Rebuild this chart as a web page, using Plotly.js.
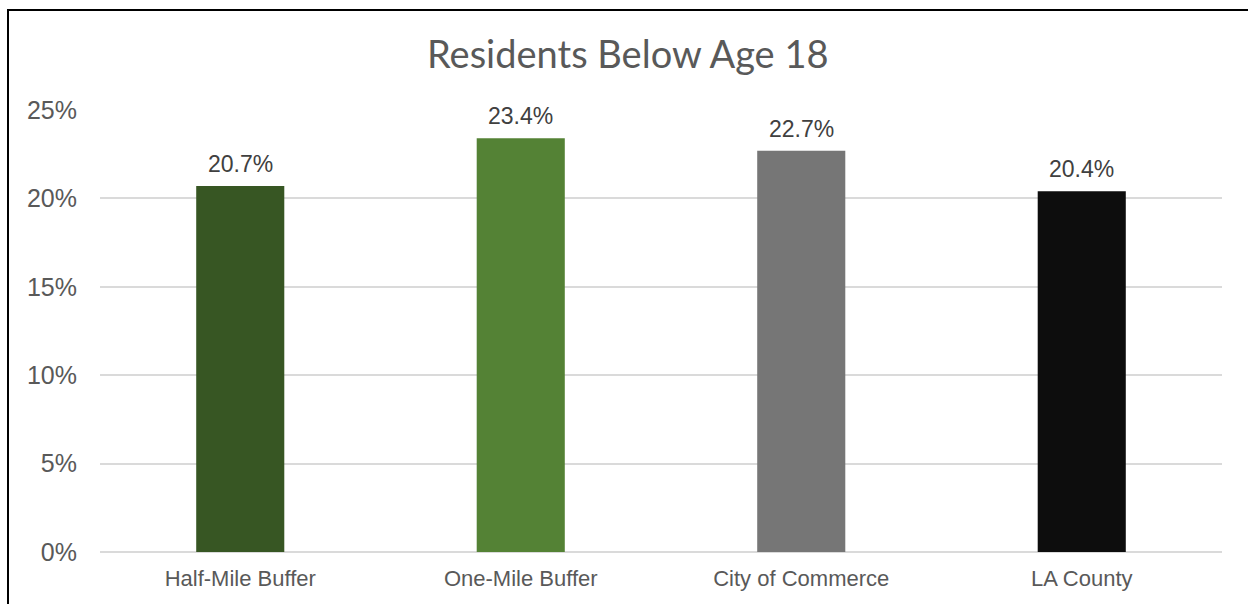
<!DOCTYPE html>
<html>
<head>
<meta charset="utf-8">
<script src="https://cdn.plot.ly/plotly-3.0.1.min.js"></script>
<style>
  html, body { margin: 0; padding: 0; background: #ffffff; overflow: hidden; }
  #wrap { position: relative; width: 1248px; height: 604px; overflow: hidden; }
  #chart { position: absolute; left: 0; top: 0; width: 1248px; height: 604px; }
  #frame { position: absolute; left: 7px; top: 9px; width: 1300px; height: 700px; border-top: 2px solid #000; border-left: 2px solid #000; box-sizing: border-box; pointer-events: none; }
</style>
</head>
<body>
<div id="wrap">
  <div id="chart"></div>
  <div id="frame"></div>
</div>
<script>
const categories = ["Half-Mile Buffer", "One-Mile Buffer", "City of Commerce", "LA County"];
const values = [20.7, 23.4, 22.7, 20.4];
const labels = ["20.7%", "23.4%", "22.7%", "20.4%"];
const colors = ["#375623", "#548235", "#767676", "#0d0d0d"];
const yTicks = [0, 5, 10, 15, 20, 25];
const yTickText = ["0%", "5%", "10%", "15%", "20%", "25%"];

const trace = {
  type: "bar",
  x: categories,
  y: values,
  marker: { color: colors },
  hoverinfo: "skip"
};

const annotations = categories.map((c, i) => ({
  x: c, y: values[i], xref: "x", yref: "y",
  text: labels[i], showarrow: false,
  yanchor: "bottom", yshift: 7,
  font: { family: "Liberation Sans, Arial, sans-serif", size: 23, color: "#404040" }
}));

const layout = {
  width: 1248, height: 604,
  paper_bgcolor: "#ffffff", plot_bgcolor: "#ffffff",
  margin: { l: 100, r: 26, t: 110, b: 52 },
  title: {
    text: "Residents Below Age 18",
    font: { family: "Lato, Noto Sans, sans-serif", size: 38, color: "#595959" },
    x: 0.503, xanchor: "center",
    y: 1 - 55 / 604, yanchor: "middle", yref: "container"
  },
  bargap: 0.686,
  showlegend: false,
  xaxis: {
    type: "category",
    showgrid: false, showline: false, zeroline: false,
    ticks: "", ticklabelstandoff: 11,
    tickfont: { family: "Liberation Sans, Arial, sans-serif", size: 22, color: "#595959" }
  },
  yaxis: {
    range: [0, 25], tickvals: yTicks, ticktext: yTickText,
    showgrid: true, gridcolor: "#dadada", gridwidth: 2,
    zeroline: true, zerolinecolor: "#dadada", zerolinewidth: 2,
    showline: false, ticks: "", ticklabelstandoff: 22,
    tickfont: { family: "Liberation Sans, Arial, sans-serif", size: 25, color: "#595959" }
  },
  annotations: annotations
};

Plotly.newPlot("chart", [trace], layout, { staticPlot: true, displayModeBar: false });
</script>
</body>
</html>
